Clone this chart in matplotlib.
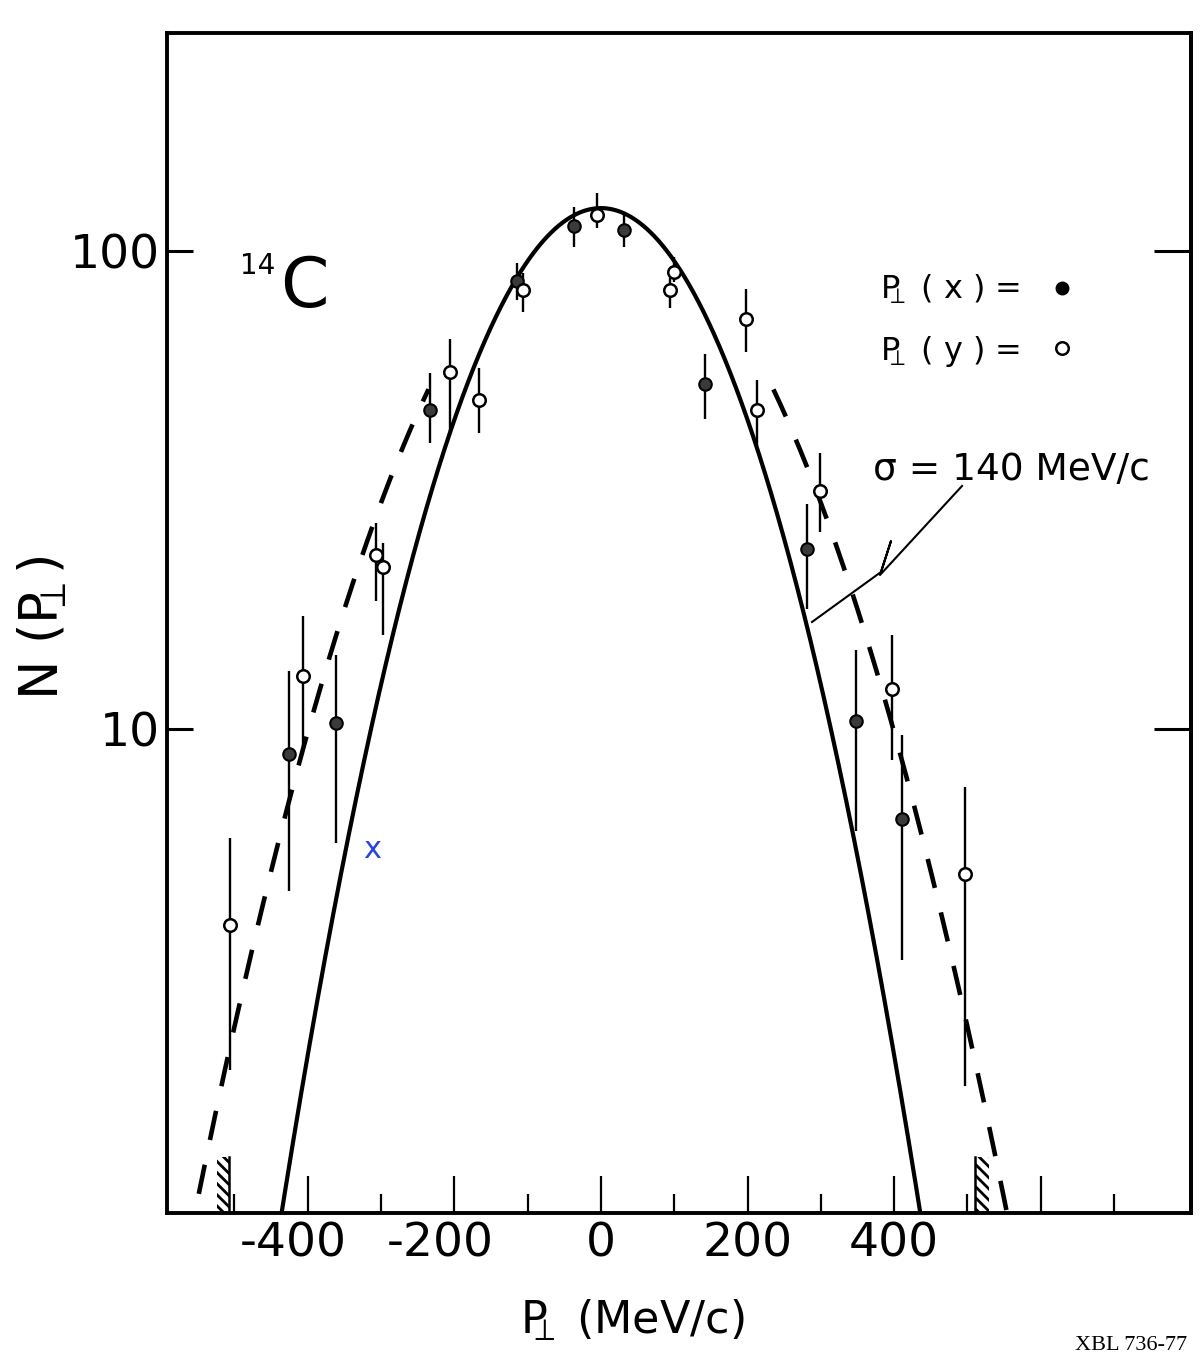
import numpy as np
import matplotlib.pyplot as plt
import matplotlib.transforms as mtransforms
from matplotlib.ticker import FixedLocator, NullLocator
from matplotlib.lines import Line2D

plt.rcParams['font.family'] = ['DejaVu Sans']
plt.rcParams['mathtext.default'] = 'regular'
plt.rcParams['hatch.linewidth'] = 2.0

# P_perp(x): filled points (MeV/c, counts, error bar top, error bar bottom)
px_p = [-425.8, -361.5, -233.8, -114.3, -37.3, 31.0, 141.6, 280.7, 347.6, 411.1]
px_n = [8.87, 10.3, 46.4, 86.5, 113.0, 110.9, 52.6, 23.8, 10.4, 6.47]
px_hi = [13.2, 14.3, 55.5, 94.4, 123.6, 119.7, 60.9, 29.6, 14.6, 9.7]
px_lo = [4.58, 5.77, 39.7, 79.0, 101.9, 101.9, 44.6, 17.8, 6.1, 3.29]

# P_perp(y): open points
py_p = [-505.8, -406.8, -306.8, -297.2, -205.5, -166.6, -106.3, -5.1,
        93.9, 99.1, 198.0, 212.4, 298.2, 397.5, 496.1]
py_n = [3.89, 12.9, 23.1, 21.8, 55.7, 48.7, 82.8, 119.2,
        82.8, 90.3, 72.1, 46.5, 31.4, 12.1, 4.98]
py_hi = [5.92, 17.2, 27.0, 24.5, 65.5, 56.9, 90.0, 132.5,
         88.0, 97.1, 83.2, 53.7, 37.8, 15.7, 7.55]
py_lo = [1.93, 9.06, 18.5, 15.7, 41.9, 41.7, 74.5, 111.7,
         75.9, 86.0, 61.5, 39.0, 25.8, 8.6, 1.79]

# gaussian curves: solid sigma = 140 MeV/c, dashed broader one in the tails
n0 = 123.0
sigma = 140.0
sigma_dash = 178.0
dash_start = 235.0

# kinematic limits (hatched)
lim_left = (-524.0, -508.0)
lim_right = (510.0, 530.0)
lim_top = 1.27

PP = 'P$_{\\!\\!\\!\\!\\perp}$'

fig = plt.figure(figsize=(12.02, 13.61), dpi=100)
ax = fig.add_axes([167 / 1202, 1 - 1213 / 1361, 1024 / 1202, 1180 / 1361])
ax.set_yscale('log')
ax.set_xlim(-592, 805)
ax.set_ylim(0.97, 286)

p = np.linspace(-592, 805, 3000)
ax.plot(p, n0 * np.exp(-p ** 2 / (2 * sigma ** 2)), color='black', lw=3.0, zorder=2)
nd = n0 * np.exp(-p ** 2 / (2 * sigma_dash ** 2))
for m in (p <= -dash_start, p >= dash_start):
    ax.plot(p[m], nd[m], color='black', lw=3.3, ls=(0, (6.5, 5.5)), zorder=2)

# hatched limits
ax.fill_betweenx([0.97, lim_top], lim_left[0], lim_left[1], facecolor='none',
                 edgecolor='black', hatch='\\\\\\', lw=0)
ax.plot([lim_left[1], lim_left[1]], [0.97, lim_top], color='black', lw=1.8)
ax.fill_betweenx([0.97, lim_top], lim_right[0], lim_right[1], facecolor='none',
                 edgecolor='black', hatch='\\\\\\', lw=0)
ax.plot([lim_right[0], lim_right[0]], [0.97, lim_top], color='black', lw=1.8)

px_n_a = np.array(px_n)
ax.errorbar(px_p, px_n, yerr=[px_n_a - np.array(px_lo), np.array(px_hi) - px_n_a],
            fmt='o', ms=9, mfc='#3a3a3a', mec='black', mew=1.5,
            ecolor='black', elinewidth=1.7, capsize=0, zorder=3)
py_n_a = np.array(py_n)
ax.errorbar(py_p, py_n, yerr=[py_n_a - np.array(py_lo), np.array(py_hi) - py_n_a],
            fmt='o', ms=9, mfc='white', mec='black', mew=1.8,
            ecolor='black', elinewidth=1.7, capsize=0, zorder=3)

# hand mark
ax.text(-312, 5.6, 'x', color='#2a45d8', fontsize=22, ha='center', va='center')

# axes styling
for s in ax.spines.values():
    s.set_linewidth(2.8)
ax.xaxis.set_major_locator(FixedLocator([-400, -200, 0, 200, 400, 600]))
ax.set_xticklabels(['-400', '-200', '0', '200', '400', ''])
ax.xaxis.set_minor_locator(FixedLocator([-500, -300, -100, 100, 300, 500, 700]))
ax.tick_params(axis='x', which='major', direction='in', length=27, width=1.6,
               labelsize=34, pad=6)
ax.tick_params(axis='x', which='minor', direction='in', length=14, width=1.6)
ax.yaxis.set_major_locator(FixedLocator([10, 100]))
ax.yaxis.set_minor_locator(NullLocator())
ax.set_yticklabels(['10', '100'])
ax.tick_params(axis='y', which='major', direction='in', length=19, width=2.2,
               labelsize=34, pad=5)

sec = ax.secondary_yaxis('right')
sec.yaxis.set_major_locator(FixedLocator([10, 100]))
sec.yaxis.set_minor_locator(NullLocator())
sec.tick_params(axis='y', which='major', direction='in', length=27, width=2.2,
                labelright=False)
sec.spines['right'].set_linewidth(2.8)

shift = mtransforms.ScaledTranslation(-0.14, 0, fig.dpi_scale_trans)
for lab in ax.get_xticklabels():
    if lab.get_text().startswith('-'):
        lab.set_transform(lab.get_transform() + shift)

# legend
h_x = Line2D([], [], ls='none', marker='o', ms=9, mfc='black', mec='black')
h_y = Line2D([], [], ls='none', marker='o', ms=9, mfc='white', mec='black', mew=1.8)
ax.legend([h_x, h_y], [PP + ' ( x ) =', PP + ' ( y ) ='],
          markerfirst=False, frameon=False, fontsize=23, loc='upper left',
          bbox_to_anchor=(880 / 1202, 1 - 273 / 1361), bbox_transform=fig.transFigure,
          borderpad=0, borderaxespad=0, handlelength=1.0, handletextpad=0.8,
          labelspacing=0.85)

# texts
fig.text(258 / 1202, 1 - 266 / 1361, '14', fontsize=20, ha='center', va='center')
fig.text(304 / 1202, 1 - 287 / 1361, 'C', fontsize=50, ha='center', va='center')
fig.text(873 / 1202, 1 - 470 / 1361, 'σ = 140 MeV/c', fontsize=27, ha='left', va='center')
lx = np.array([812, 881, 891, 880, 962]) / 1202
ly = 1 - np.array([622, 572, 541, 575, 486]) / 1361
fig.add_artist(Line2D(lx, ly, transform=fig.transFigure, color='black', lw=1.5))

fig.text(632 / 1202, 1 - 1320 / 1361, PP + ' (MeV/c)', fontsize=32,
         ha='center', va='center')
fig.text(42 / 1202, 1 - 628 / 1361, 'N (' + PP + ')', fontsize=38, rotation=90,
         ha='center', va='center')
fig.text(1075 / 1202, 1 - 1345 / 1361, 'XBL 736-77', family='Liberation Serif',
         fontsize=16, ha='left', va='center')

fig.savefig('out.png', dpi=100)
